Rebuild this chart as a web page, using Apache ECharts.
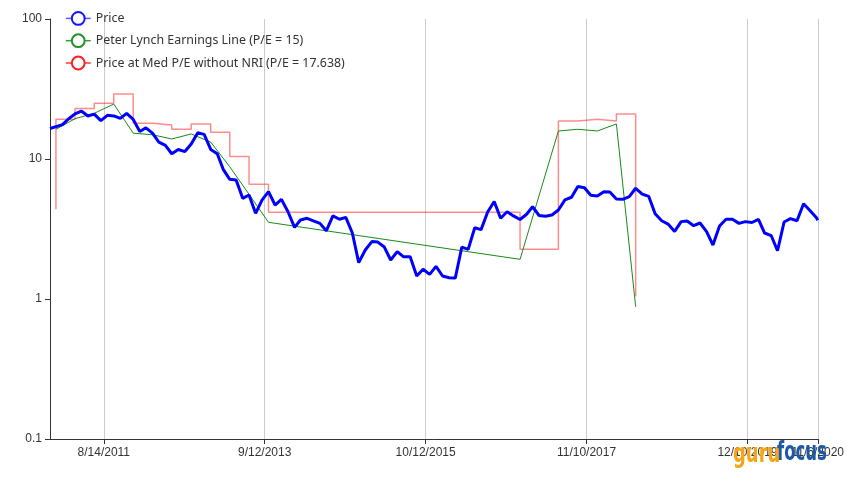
<!DOCTYPE html>
<html><head><meta charset="utf-8">
<script src="https://cdn.jsdelivr.net/npm/echarts@6/dist/echarts.min.js"></script>
<style>html,body{margin:0;padding:0;background:#fff}#c{width:847px;height:500px}</style>
</head><body><div id="c"></div>
<script>
// ---------- data ----------
const xMin = '2010-12-03';
const xMax = '2020-11-06';
const xTickDates = ['2011-08-14', '2013-09-12', '2015-10-12', '2017-11-10', '2019-12-10', '2020-11-06'];
const yTickLabels = ['0.1', '1', '10', '100'];

const seriesNames = ['Price', 'Peter Lynch Earnings Line (P/E = 15)', 'Price at Med P/E without NRI (P/E = 17.638)'];

// monthly price (month ends), first point at chart start, last point = latest quote
const priceFirstDate = '2010-12-03';
const priceMonthStart = '2010-12';   // month-end points from Dec 2010 ...
const priceMonthEnd = '2020-10';     // ... to Oct 2020
const priceLastDate = '2020-11-06';
const priceValues = [
  16.5, 17.6, 19.3, 21.0, 22.0, 20.3, 20.9, 18.8, 20.5, 20.3,
  19.5, 21.2, 19.2, 15.7, 16.7, 15.3, 13.2, 12.5, 10.9, 11.7,
  11.3, 12.8, 15.4, 15.0, 11.7, 10.9, 8.44, 7.16, 7.08, 5.24,
  5.53, 4.09, 5.10, 5.84, 4.69, 5.15, 4.20, 3.25, 3.67, 3.77,
  3.62, 3.47, 3.07, 3.92, 3.71, 3.83, 2.96, 1.82, 2.24, 2.57,
  2.55, 2.35, 1.90, 2.18, 2.00, 2.00, 1.46, 1.63, 1.50, 1.71,
  1.46, 1.42, 1.41, 2.35, 2.26, 3.23, 3.13, 4.18, 4.97, 3.77,
  4.20, 3.92, 3.70, 4.03, 4.56, 3.95, 3.90, 3.98, 4.32, 5.10,
  5.33, 6.36, 6.24, 5.51, 5.44, 5.83, 5.81, 5.18, 5.15, 5.38,
  6.18, 5.62, 5.40, 4.07, 3.62, 3.43, 3.04, 3.57, 3.61, 3.34,
  3.49, 3.03, 2.43, 3.32, 3.71, 3.71, 3.47, 3.57, 3.52, 3.71,
  2.96, 2.84, 2.21, 3.55, 3.75, 3.62, 4.79, 4.29, 3.80, 3.65,
  3.85
];

const lynchDates = ['2010-12-31', '2011-03-31', '2011-06-30', '2011-09-30', '2011-12-31', '2012-03-31',
  '2012-06-30', '2012-09-30', '2012-12-31', '2013-03-31', '2013-06-30', '2013-09-30',
  '2016-12-31', '2017-06-30', '2017-09-30', '2017-12-31', '2018-03-31', '2018-06-30'];
const lynchValues = [16.3, 19.4, 21.2, 24.7, 15.3, 14.9, 13.9, 15.1, 13.2, 8.8, 5.6, 3.53,
  1.92, 15.85, 16.3, 15.85, 17.8, 0.88];

const medPeDates = ['2010-12-31', '2010-12-31', '2011-03-31', '2011-06-30', '2011-09-30', '2011-12-31',
  '2012-03-31', '2012-06-30', '2012-09-30', '2012-12-31', '2013-03-31', '2013-06-30', '2013-09-30',
  '2016-12-31', '2017-06-30', '2017-09-30', '2017-12-31', '2018-03-31', '2018-06-30'];
const medPeValues = [4.37, 19.2, 22.9, 25.0, 29.1, 18.0, 17.5, 16.3, 17.8, 15.5, 10.4, 6.6, 4.16,
  2.27, 18.7, 19.2, 18.7, 21.0, 1.04];

// ---------- helpers ----------
function ts(s) { const p = s.split('-').map(Number); return Date.UTC(p[0], p[1] - 1, p[2]); }
function monthEnds(startYM, endYM) {
  let [y, m] = startYM.split('-').map(Number);
  const [ey, em] = endYM.split('-').map(Number);
  const out = [];
  while (y < ey || (y === ey && m <= em)) {
    out.push(Date.UTC(y, m, 0)); // last day of month m
    m++; if (m > 12) { m = 1; y++; }
  }
  return out;
}
function fmtDate(v) { const d = new Date(v); return (d.getUTCMonth() + 1) + '/' + d.getUTCDate() + '/' + d.getUTCFullYear(); }

const priceDates = monthEnds(priceMonthStart, priceMonthEnd);
priceDates[0] = ts(priceFirstDate);
priceDates.push(ts(priceLastDate));

const priceData = priceDates.map((d, i) => [d, priceValues[i]]);
const lynchData = lynchDates.map((d, i) => [ts(d), lynchValues[i]]);
const medPeData = medPeDates.map((d, i) => [ts(d), medPeValues[i]]);
const xTicks = xTickDates.map(ts);

const FONT = '"Liberation Sans", Arial, sans-serif';
const LEGEND_FONT = '"Noto Sans", "Liberation Sans", sans-serif';
const LOGO_FONT = 'bold 27px "Liberation Sans Narrow", "DejaVu Sans Condensed", sans-serif';
const chart = echarts.init(document.getElementById('c'), null, { renderer: 'canvas' });
chart.setOption({
  animation: false,
  backgroundColor: '#fff',
  textStyle: { fontFamily: FONT },
  grid: { left: 50, right: 29, top: 19, bottom: 61, containLabel: false },
  legend: {
    orient: 'vertical', left: 60, top: 6, itemWidth: 25, itemHeight: 16, itemGap: 7.5,
    textStyle: { fontSize: 12.4, color: '#333', fontFamily: LEGEND_FONT },
    data: [
      { name: seriesNames[0], itemStyle: { color: '#1515ff' }, lineStyle: { color: '#3333ff', width: 1.5, opacity: 0.8 } },
      { name: seriesNames[1], itemStyle: { color: '#23922a' }, lineStyle: { color: '#23922a', width: 1.5, opacity: 0.9 } },
      { name: seriesNames[2], itemStyle: { color: '#ff2020' }, lineStyle: { color: '#ff2020', width: 1.5, opacity: 0.9 } }
    ]
  },
  xAxis: {
    type: 'value', min: ts(xMin), max: ts(xMax), scale: true,
    axisLine: { show: true, lineStyle: { color: '#333', width: 1 } },
    axisTick: { show: true, customValues: xTicks, length: 5, lineStyle: { color: '#333' } },
    axisLabel: { customValues: xTicks, formatter: fmtDate, color: '#333', fontSize: 12, margin: 8, hideOverlap: false, fontFamily: FONT },
    splitLine: { show: true, lineStyle: { color: '#ccc', width: 1 } }
  },
  yAxis: {
    type: 'log', logBase: 10, min: 0.1, max: 100,
    axisLine: { show: true, lineStyle: { color: '#333', width: 1 } },
    axisTick: { show: true, length: 5, lineStyle: { color: '#333' } },
    axisLabel: { color: '#333', fontSize: 12, margin: 8, fontFamily: FONT,
      formatter: v => yTickLabels[Math.round(Math.log10(v)) + 1] },
    splitLine: { show: false }
  },
  series: [
    { name: seriesNames[2], type: 'line', step: 'end', data: medPeData, symbol: 'emptyCircle', showSymbol: false,
      itemStyle: { color: '#ff0000' }, lineStyle: { color: 'rgba(255,0,0,0.45)', width: 1.5 }, z: 1 },
    { name: seriesNames[1], type: 'line', data: lynchData, symbol: 'emptyCircle', showSymbol: false,
      itemStyle: { color: '#008000' }, lineStyle: { color: '#1a8a1a', width: 1 }, z: 2 },
    { name: seriesNames[0], type: 'line', data: priceData, symbol: 'emptyCircle', showSymbol: false,
      itemStyle: { color: '#0000ff' }, lineStyle: { color: '#0000ff', width: 3 }, z: 3 }
  ],
  graphic: [
    { type: 'text', left: 733, top: 441, z: 100, scaleX: 0.74,
      style: { text: 'guru', fill: '#f5a516', font: LOGO_FONT } },
    { type: 'text', left: 777, top: 439, z: 100, scaleX: 0.68,
      style: { text: 'focus', fill: '#1c5aa6', font: LOGO_FONT } }
  ]
});
</script></body></html>
